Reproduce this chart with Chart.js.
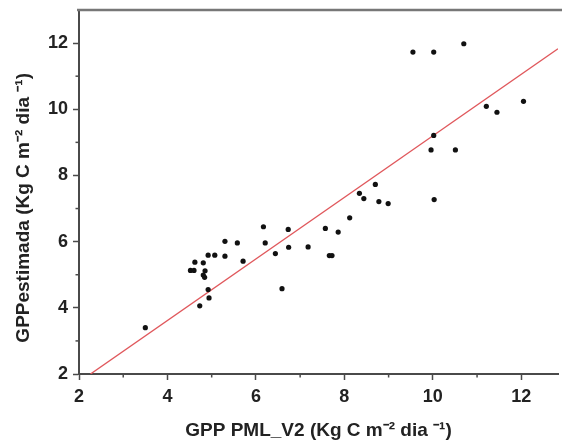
<!DOCTYPE html>
<html>
<head>
<meta charset="utf-8">
<script src="https://cdn.jsdelivr.net/npm/chart.js@4.4.0/dist/chart.umd.min.js"></script>
<style>
  body { margin: 0; background: #fff; }
  #wrap { width: 562px; height: 447px; }
</style>
</head>
<body>
<div id="wrap"><canvas id="myChart" width="562" height="447"></canvas></div>
<script>
// valores
const gppPml = [3.50, 4.52, 4.60, 4.62, 4.81, 4.85, 4.81, 4.84, 4.92, 5.07, 4.73, 4.92, 4.94, 5.30, 5.30,
  5.58, 5.71, 6.17, 6.21, 6.44, 6.73, 6.74, 6.59, 7.18, 7.57, 7.66, 7.72, 7.86, 8.12, 8.34, 8.44, 8.70,
  8.78, 8.99, 9.55, 10.02, 10.70, 9.96, 10.02, 10.03, 10.51, 11.21, 11.45, 12.05];
const gppEstimada = [3.40, 5.13, 5.13, 5.38, 5.36, 5.12, 4.99, 4.92, 5.59, 5.59, 4.06, 4.55, 4.30, 6.01, 5.56,
  5.96, 5.41, 6.45, 5.96, 5.64, 6.37, 5.83, 4.58, 5.84, 6.40, 5.58, 5.58, 6.29, 6.72, 7.46, 7.30, 7.73,
  7.21, 7.15, 11.73, 11.73, 11.98, 8.77, 9.21, 7.27, 8.77, 10.09, 9.91, 10.24];

// reta de ajuste (pontos extremos)
const fitX = [2.26, 12.83];
const fitY = [2.0, 11.83];

// ticks
const xTicks = [2, 4, 6, 8, 10, 12];
const yTicks = [2, 4, 6, 8, 10, 12];
const xMinor = [3, 5, 7, 9, 11];
const yMinor = [3, 5, 7, 9, 11];

const fontFam = '"Liberation Sans", Arial, sans-serif';
const axisColor = '#4a4a4a';

// ticks menores + borda de cima
const extraAxis = {
  id: 'extraAxis',
  afterDraw(chart) {
    const c = chart.ctx;
    const a = chart.chartArea;
    const sx = chart.scales.x;
    const sy = chart.scales.y;
    c.save();
    c.strokeStyle = axisColor;
    c.lineWidth = 1.5;
    xMinor.forEach(v => {
      const p = sx.getPixelForValue(v);
      c.beginPath(); c.moveTo(p, a.bottom); c.lineTo(p, a.bottom + 3.5); c.stroke();
    });
    yMinor.forEach(v => {
      const p = sy.getPixelForValue(v);
      c.beginPath(); c.moveTo(a.left, p); c.lineTo(a.left - 3.5, p); c.stroke();
    });
    c.strokeStyle = '#777';
    c.lineWidth = 2.5;
    c.beginPath(); c.moveTo(a.left - 2, a.top); c.lineTo(chart.width, a.top); c.stroke();
    c.restore();
  }
};

const ctx = document.getElementById('myChart').getContext('2d');
const myChart = new Chart(ctx, {
  type: 'scatter',
  data: {
    datasets: [{
      label: 'pontos',
      data: gppPml.map((v, i) => ({ x: v, y: gppEstimada[i] })),
      backgroundColor: '#111',
      borderWidth: 0,
      pointRadius: 2.6
    }, {
      type: 'line',
      label: 'ajuste',
      data: fitX.map((v, i) => ({ x: v, y: fitY[i] })),
      borderColor: '#e0585c',
      borderWidth: 1.4,
      pointRadius: 0,
      fill: false
    }]
  },
  options: {
    responsive: false,
    animation: false,
    devicePixelRatio: 1,
    layout: { padding: { top: 10, right: 0, bottom: 0, left: 0 } },
    plugins: { legend: { display: false }, tooltip: { enabled: false } },
    scales: {
      x: {
        type: 'linear',
        min: 2,
        max: 12.83,
        afterBuildTicks: s => { s.ticks = xTicks.map(v => ({ value: v })); },
        afterFit: s => { s.height = 73; s.paddingLeft = 0; s.paddingRight = 0; },
        grid: { drawOnChartArea: false, tickLength: 6, tickColor: axisColor, tickWidth: 1.5 },
        border: { display: true, color: axisColor, width: 2 },
        ticks: { color: '#222', padding: 6, maxRotation: 0, font: { family: fontFam, size: 18, weight: 'bold' } },
        title: {
          display: true,
          text: 'GPP PML_V2 (Kg C m\u207B\u00B2 dia \u207B\u00B9)',
          color: '#222',
          padding: { top: 0, bottom: 5 },
          font: { family: fontFam, size: 19, weight: 'bold' }
        }
      },
      y: {
        type: 'linear',
        min: 2,
        max: 13,
        afterBuildTicks: s => { s.ticks = yTicks.map(v => ({ value: v })); },
        afterFit: s => { s.width = 79; s.paddingTop = 0; s.paddingBottom = 0; },
        grid: { drawOnChartArea: false, tickLength: 6, tickColor: axisColor, tickWidth: 1.5 },
        border: { display: true, color: axisColor, width: 2 },
        ticks: { color: '#222', padding: 5, font: { family: fontFam, size: 18, weight: 'bold' } },
        title: {
          display: true,
          text: 'GPPestimada (Kg C m\u207B\u00B2 dia \u207B\u00B9)      ',
          color: '#222',
          padding: { top: 12, bottom: 0 },
          font: { family: fontFam, size: 19, weight: 'bold' }
        }
      }
    }
  },
  plugins: [extraAxis]
});
</script>
</body>
</html>
